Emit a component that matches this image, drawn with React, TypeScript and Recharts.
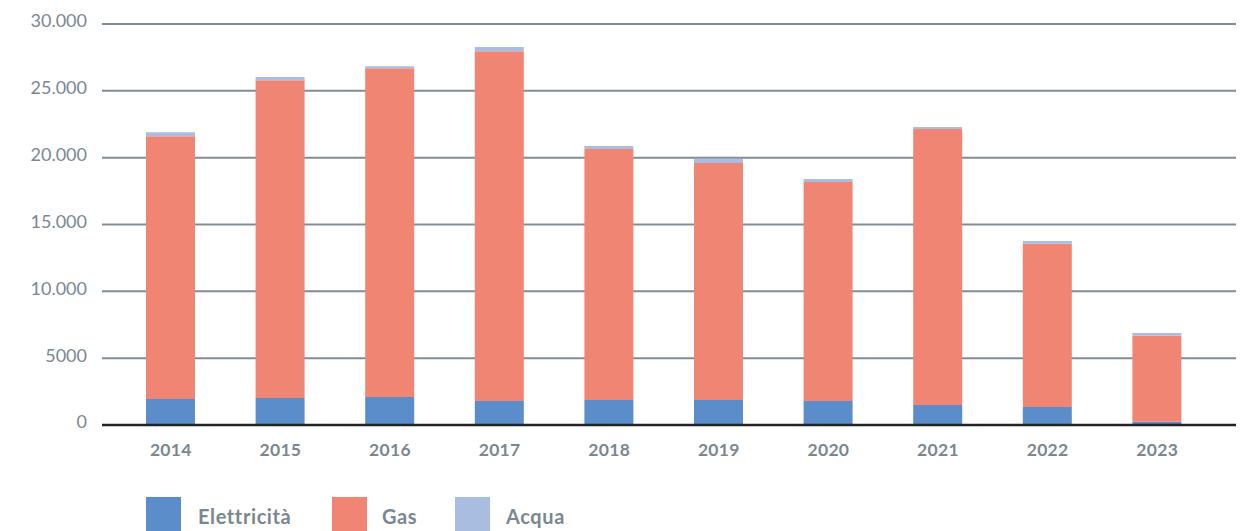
import { BarChart, Bar, XAxis, YAxis, CartesianGrid } from 'recharts';

const years = ['2014', '2015', '2016', '2017', '2018', '2019', '2020', '2021', '2022', '2023'];
const elettricita = [1950, 2020, 2090, 1800, 1870, 1870, 1800, 1500, 1350, 250];
const gas = [19650, 23780, 24600, 26170, 18770, 17730, 16380, 20640, 12210, 6430];
const acqua = [300, 230, 150, 300, 230, 300, 225, 150, 200, 200];
const yTicks = [0, 5000, 10000, 15000, 20000, 25000, 30000];

const series = [
    { key: 'elettricita', name: 'Elettricità', color: '#5a8dc9' },
    { key: 'gas', name: 'Gas', color: '#f08573' },
    { key: 'acqua', name: 'Acqua', color: '#a8bde0' },
];

const data = years.map((year, i) => ({
    year,
    elettricita: elettricita[i],
    gas: gas[i],
    acqua: acqua[i],
}));

const textColor = '#7a8791';
const font = 'Lato, "Open Sans", sans-serif';

const formatTick = (v: number) => {
    if (v < 10000) return String(v);
    const s = String(v);
    return s.slice(0, s.length - 3) + '.' + s.slice(-3);
};

const App = () => {
    return (
        <div style={{ position: 'relative', width: 1248, height: 531, fontFamily: font }}>
            <style>{'body{margin:0;overflow:hidden}'}</style>
            <BarChart
                width={1248}
                height={531}
                data={data}
                margin={{ top: 24, right: 12, left: 0, bottom: 0 }}
                barSize={49}
            >
                <CartesianGrid vertical={false} stroke="#818d96" strokeWidth={2} />
                <XAxis
                    dataKey="year"
                    height={106}
                    padding={{ left: 14, right: 24 }}
                    tickLine={false}
                    axisLine={{ stroke: '#222', strokeWidth: 2.5 }}
                    tickMargin={13}
                    tick={{ fill: textColor, fontSize: 17.5, fontWeight: 700, fontFamily: font, letterSpacing: 0.3 }}
                />
                <YAxis
                    width={102}
                    domain={[0, 30000]}
                    ticks={yTicks}
                    tickFormatter={formatTick}
                    axisLine={false}
                    tickLine={false}
                    tickSize={0}
                    tickMargin={15}
                    tick={{ fill: textColor, fontSize: 18, fontFamily: font, dy: -3 }}
                />
                {series.map((s) => (
                    <Bar key={s.key} dataKey={s.key} name={s.name} stackId="a" fill={s.color} isAnimationActive={false} />
                ))}
            </BarChart>
            {series.map((s, i) => (
                <div
                    key={s.key}
                    style={{
                        position: 'absolute',
                        top: 497,
                        left: [146, 332, 455][i],
                        display: 'flex',
                        alignItems: 'flex-start',
                    }}
                >
                    <span style={{ display: 'inline-block', width: 35, height: 35, backgroundColor: s.color }} />
                    <span
                        style={{
                            marginLeft: [17, 15, 16][i],
                            marginTop: 8,
                            fontSize: 20,
                            fontWeight: 700,
                            letterSpacing: 0.6,
                            color: textColor,
                            lineHeight: '22px',
                        }}
                    >
                        {s.name}
                    </span>
                </div>
            ))}
        </div>
    );
};

export default App;
